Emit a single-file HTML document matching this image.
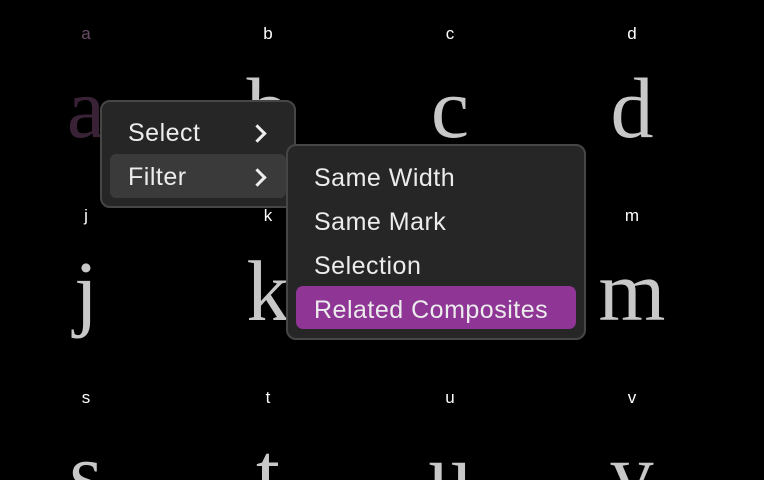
<!DOCTYPE html>
<html><head><style>
html,body{margin:0;width:764px;height:480px;overflow:hidden}
body{background:#000;font-family:"Liberation Sans",sans-serif}
#w{position:relative;width:764px;height:480px;overflow:hidden}
.l{position:absolute;color:#fff;font-size:17px;width:40px;text-align:center;line-height:1}
.g{position:absolute;color:#c8c8c8;font-family:"Liberation Serif",serif;font-size:86px;width:160px;text-align:center;line-height:1}
.m{position:absolute;background:#262626;border:2px solid #464646;border-radius:10px;box-sizing:border-box}
.it{position:absolute;color:#ececec;font-size:25px;letter-spacing:0.5px;line-height:1}
.chev{position:absolute;width:10px;height:10px;border-right:3px solid #eee;border-top:3px solid #eee;transform:rotate(45deg)}
</style></head><body><div id="w">
<div class="l" style="left:66px;top:25px;color:#6a4a66">a</div>
<div class="l" style="left:248px;top:25px">b</div>
<div class="l" style="left:430px;top:25px">c</div>
<div class="l" style="left:612px;top:25px">d</div>
<div class="l" style="left:66px;top:207px">j</div>
<div class="l" style="left:248px;top:207px">k</div>
<div class="l" style="left:612px;top:207px">m</div>
<div class="l" style="left:66px;top:389px">s</div>
<div class="l" style="left:248px;top:389px">t</div>
<div class="l" style="left:430px;top:389px">u</div>
<div class="l" style="left:612px;top:389px">v</div>
<div class="g" style="left:6px;top:65px;color:#3a2236">a</div>
<div class="g" style="left:188px;top:65px">b</div>
<div class="g" style="left:370px;top:65px">c</div>
<div class="g" style="left:552px;top:65px">d</div>
<div class="g" style="left:6px;top:248px">j</div>
<div class="g" style="left:188px;top:248px">k</div>
<div class="g" style="left:552px;top:248px">m</div>
<div class="g" style="left:6px;top:430px">s</div>
<div class="g" style="left:188px;top:430px">t</div>
<div class="g" style="left:370px;top:430px">u</div>
<div class="g" style="left:552px;top:430px">v</div>

<div class="m" style="left:100px;top:100px;width:196px;height:108px"></div>
<div style="position:absolute;left:110px;top:154px;width:176px;height:44px;background:#3a3a3a;border-radius:6px"></div>
<div class="it" style="left:128px;top:121px">Select</div>
<div class="chev" style="left:251px;top:127px"></div>
<div class="it" style="left:128px;top:165px">Filter</div>
<div class="chev" style="left:251px;top:171px"></div>

<div class="m" style="left:286px;top:144px;width:300px;height:196px"></div>
<div style="position:absolute;left:296px;top:286px;width:280px;height:43px;background:#8e3596;border-radius:7px"></div>
<div class="it" style="left:314px;top:166px">Same Width</div>
<div class="it" style="left:314px;top:210px">Same Mark</div>
<div class="it" style="left:314px;top:254px">Selection</div>
<div class="it" style="left:314px;top:298px">Related Composites</div>
</div></body></html>
